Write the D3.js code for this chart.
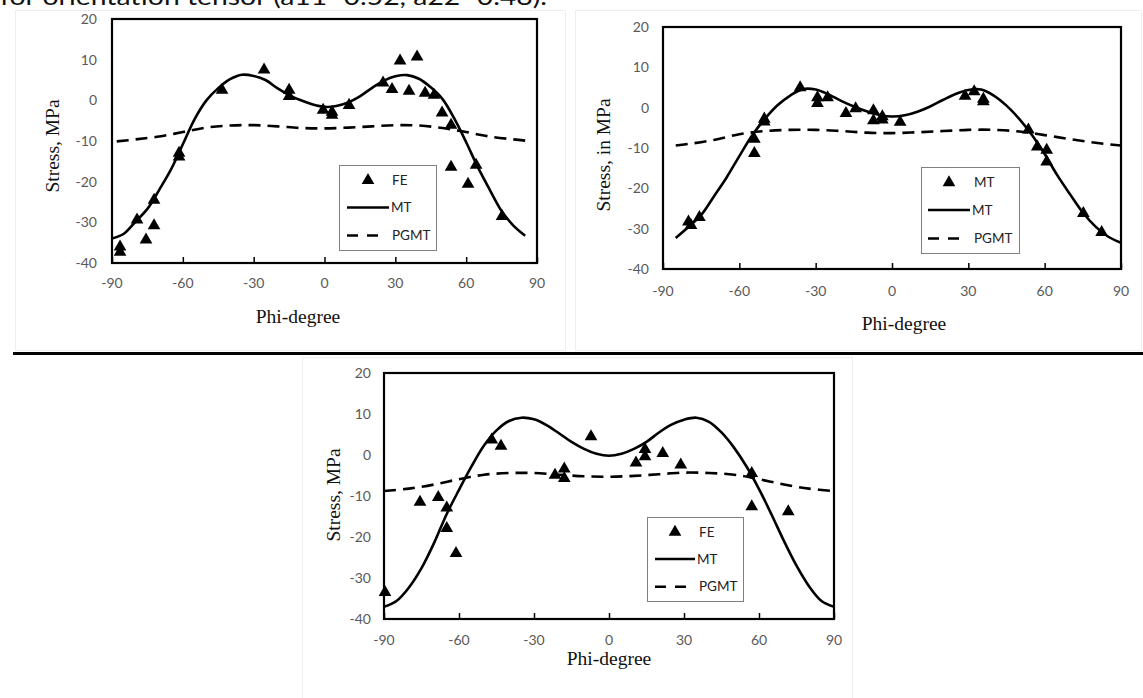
<!DOCTYPE html>
<html>
<head>
<meta charset="utf-8">
<script src="https://cdn.jsdelivr.net/npm/d3@7"></script>
<style>
  html, body { margin: 0; padding: 0; background: #fff; }
  svg { display: block; }
</style>
</head>
<body>
<svg id="chart" width="1143" height="698"></svg>
<script>
// ---------------- DATA ----------------
const phiTicks = [-90, -60, -30, 0, 30, 60, 90];
const stressTicks = [20, 10, 0, -10, -20, -30, -40];
const headerText = "for orientation tensor (a11=0.52, a22=0.48).";

// Chart 1 (top-left)
const fe1Phi = [-86.6, -86.6, -79.4, -75.6, -72.2, -72.2, -61.6, -61.6, -43.4, -25.6, -15, -15, -0.6, 3.2, 3.2, 10.4, 24.8, 28.6, 32, 35.8, 39.2, 42.6, 46.4, 49.8, 53.6, 53.6, 60.8, 64.2, 75.2];
const fe1Val = [-36, -37.3, -29.4, -34.3, -24.5, -30.8, -13, -13.9, 2.5, 7.5, 2.5, 1, -2.4, -2.9, -3.6, -1.2, 4.3, 2.7, 9.7, 2.3, 10.7, 1.8, 1.3, -3.1, -6.1, -16.4, -20.6, -15.9, -28.5];
const mt1Phi = [-90, -85, -80, -75, -70, -65, -60, -55, -50, -45, -40, -35, -30, -25, -20, -15, -10, -5, 0, 5, 10, 15, 20, 25, 30, 35, 40, 45, 50, 55, 60, 65, 70, 75, 80, 85];
const mt1Val = [-34, -32.8, -29.8, -26.7, -22, -17, -10.8, -4.6, 0, 3, 5.2, 6.3, 6, 5, 3, 1.3, 0, -1, -1.6, -1.4, -0.5, 1, 3, 4.8, 5.9, 6.2, 5.3, 3.2, 0.3, -4.5, -10.3, -16.5, -22, -27.2, -30.8, -33.3];
const pg1Phi = [-88, -80, -70, -60, -50, -40, -30, -20, -10, 0, 10, 20, 30, 40, 50, 60, 70, 80, 85];
const pg1Val = [-10.1, -9.6, -8.9, -7.8, -6.7, -6.2, -6.1, -6.4, -6.8, -6.9, -6.7, -6.4, -6.1, -6.2, -6.8, -7.8, -8.9, -9.6, -9.9];

// Chart 2 (top-right)
const fe2Phi = [-80, -79, -75.7, -54.1, -54.1, -50.2, -50.2, -36.1, -29.3, -29.3, -25.3, -18.1, -14.3, -7.3, -7.3, -3.8, -3.8, 3.2, 28.7, 32.3, 35.9, 35.9, 53.6, 57.1, 60.8, 60.8, 75.2, 82.4];
const fe2Val = [-28.3, -29.2, -27.2, -7.8, -11.3, -2.8, -3.5, 5, 2.5, 1.1, 2.5, -1.4, -0.2, -0.7, -3.2, -2.2, -3, -3.6, 2.9, 4, 2.1, 1.5, -5.5, -9.7, -10.5, -13.4, -26.2, -30.9];
const mt2Phi = [-85, -80, -75, -70, -65, -60, -55, -50, -45, -40, -35, -30, -25, -20, -15, -10, -5, 0, 5, 10, 15, 20, 25, 30, 35, 40, 45, 50, 55, 60, 65, 70, 75, 80, 85, 90];
const mt2Val = [-32.3, -29.6, -26.6, -22, -17.3, -12, -6.9, -2.8, 0.6, 3, 4.6, 4.5, 3.3, 1.7, 0.3, -0.9, -1.8, -2.2, -1.9, -1, 0.3, 1.9, 3.4, 4.4, 4.5, 3, 0.5, -2.8, -6.8, -11.5, -16.8, -21.5, -26, -29.5, -32, -33.5];
const pg2Phi = [-85, -80, -70, -60, -50, -40, -30, -20, -10, 0, 10, 20, 30, 40, 50, 60, 70, 80, 90];
const pg2Val = [-9.4, -9.0, -8.0, -6.6, -5.8, -5.5, -5.5, -5.8, -6.2, -6.3, -6.1, -5.8, -5.5, -5.5, -5.9, -6.8, -7.8, -8.7, -9.4];

// Chart 3 (bottom)
const fe3Phi = [-89.6, -75.6, -68.3, -64.9, -64.9, -61.2, -46.9, -43.2, -21.6, -17.9, -17.9, -7.2, 10.8, 14.4, 14.4, 21.5, 28.7, 57.1, 57.1, 71.7];
const fe3Val = [-33.5, -11.5, -10.3, -12.9, -17.9, -24, 3.7, 2.2, -4.9, -3.4, -5.7, 4.5, -1.9, 1.4, -0.4, 0.4, -2.4, -4.5, -12.6, -13.8];
const mt3Phi = [-90, -85, -80, -75, -70, -65, -60, -55, -50, -45, -40, -35, -30, -25, -20, -15, -10, -5, 0, 5, 10, 15, 20, 25, 30, 35, 40, 45, 50, 55, 60, 65, 70, 75, 80, 85, 90];
const mt3Val = [-37, -35.6, -32.3, -27.6, -21.5, -14.5, -8.5, -2.8, 2.3, 6, 8.3, 9.1, 8.7, 7.3, 5.3, 3.2, 1.5, 0.3, -0.2, 0.3, 1.5, 3.2, 5.5, 7.4, 8.6, 9.1, 8.1, 5.5, 1.8, -2.8, -8.3, -14.5, -21, -27, -32, -35.6, -37];
const pg3Phi = [-90, -80, -70, -60, -50, -40, -30, -20, -10, 0, 10, 20, 30, 40, 50, 60, 70, 80, 90];
const pg3Val = [-8.8, -8.2, -7.2, -5.9, -4.8, -4.4, -4.4, -4.8, -5.2, -5.3, -5.1, -4.7, -4.3, -4.4, -4.8, -5.9, -7.2, -8.2, -8.8];

// Legend labels
const legend1 = ["FE", "MT", "PGMT"];
const legend2 = ["MT", "MT", "PGMT"];
const legend3 = ["FE", "MT", "PGMT"];

// ---------------- DRAW ----------------
const svg = d3.select("#chart");
const tickFont = "Lato, 'Open Sans', sans-serif";
const serif = "'Liberation Serif', 'Times New Roman', serif";

// header text (the reference shows only its lower part, cut by the top edge)
svg.append("text")
  .attr("x", 0).attr("y", 5)
  .attr("textLength", 547).attr("lengthAdjust", "spacingAndGlyphs")
  .attr("font-family", tickFont).attr("font-size", 24).attr("fill", "#111")
  .text(headerText);

// faint outer frames
const frames = [
  {x: 15, y: 10, w: 550, h: 340},
  {x: 575, y: 10, w: 566, h: 340},
  {x: 302, y: 357, w: 550, h: 345}
];
svg.selectAll("rect.frame").data(frames).enter().append("rect")
  .attr("class", "frame")
  .attr("x", d => d.x + 0.5).attr("y", d => d.y + 0.5)
  .attr("width", d => d.w).attr("height", d => d.h)
  .attr("fill", "none").attr("stroke", "#eeeeee").attr("stroke-width", 1);

// separator line
svg.append("line")
  .attr("x1", 13).attr("x2", 1143).attr("y1", 353.5).attr("y2", 353.5)
  .attr("stroke", "#000").attr("stroke-width", 3);

function drawChart(cfg) {
  const g = svg.append("g");
  const x = d3.scaleLinear().domain([-90, 90]).range([cfg.left, cfg.right]);
  const y = d3.scaleLinear().domain([-40, 20]).range([cfg.bottom, cfg.top]);

  // x ticks pointing inward
  const xAxis = d3.axisTop(x).tickValues(phiTicks).tickSize(6).tickFormat("");
  const xa = g.append("g").attr("transform", `translate(0,${cfg.bottom})`).call(xAxis);
  xa.select(".domain").remove();
  xa.selectAll("line").attr("stroke", "#000").attr("stroke-width", 1.5);

  // tick labels
  g.selectAll("text.xl").data(phiTicks).enter().append("text")
    .attr("x", d => x(d)).attr("y", cfg.xLabelY)
    .attr("text-anchor", "middle").attr("font-family", tickFont)
    .attr("font-size", 14).attr("fill", "#595959").text(d => d);
  g.selectAll("text.yl").data(stressTicks).enter().append("text")
    .attr("x", cfg.yLabelX).attr("y", d => y(d)).attr("dy", "0.35em")
    .attr("text-anchor", "end").attr("font-family", tickFont)
    .attr("font-size", 14).attr("fill", "#595959").text(d => d);

  // titles
  g.append("text").attr("x", cfg.xTitleX).attr("y", cfg.xTitleY)
    .attr("text-anchor", "middle").attr("font-family", serif)
    .attr("font-size", 19.5).attr("fill", "#111").text("Phi-degree");
  g.append("text")
    .attr("transform", `translate(${cfg.yTitleX},${cfg.yTitleY}) rotate(-90)`)
    .attr("text-anchor", "middle").attr("dy", "0.35em").attr("font-family", serif)
    .attr("font-size", 19.5).attr("fill", "#111").text(cfg.yTitle);

  const line = d3.line().x(d => x(d[0])).y(d => y(d[1])).curve(d3.curveCatmullRom.alpha(0.5));
  const pg = d3.zip(cfg.pgPhi, cfg.pgVal);
  const mt = d3.zip(cfg.mtPhi, cfg.mtVal);
  g.append("path").attr("d", line(pg)).attr("fill", "none")
    .attr("stroke", "#000").attr("stroke-width", 2.6).attr("stroke-dasharray", "12,7");
  g.append("path").attr("d", line(mt)).attr("fill", "none")
    .attr("stroke", "#000").attr("stroke-width", 2.6);

  const tri = d3.symbol().type(d3.symbolTriangle).size(70);
  g.selectAll("path.fe").data(d3.zip(cfg.fePhi, cfg.feVal)).enter().append("path")
    .attr("d", tri)
    .attr("transform", d => `translate(${x(d[0])},${y(d[1])})`)
    .attr("fill", "#000");

  // plot frame
  g.append("rect")
    .attr("x", cfg.left).attr("y", cfg.top)
    .attr("width", cfg.right - cfg.left).attr("height", cfg.bottom - cfg.top)
    .attr("fill", "none").attr("stroke", "#000").attr("stroke-width", 2.2);

  // legend
  const L = cfg.legend;
  g.append("rect").attr("x", L.x + 0.5).attr("y", L.y + 0.5).attr("width", L.w).attr("height", L.h)
    .attr("fill", "#fff").attr("stroke", "#808080").attr("stroke-width", 1);
  const rows = [L.y + L.h * 0.18, L.y + L.h * 0.5, L.y + L.h * 0.83];
  g.append("path").attr("d", tri)
    .attr("transform", `translate(${L.symX},${rows[0]})`).attr("fill", "#000");
  g.append("line").attr("x1", L.lineX1).attr("x2", L.lineX2).attr("y1", rows[1]).attr("y2", rows[1])
    .attr("stroke", "#000").attr("stroke-width", 2.5);
  g.append("line").attr("x1", L.lineX1).attr("x2", L.lineX2 - 6).attr("y1", rows[2]).attr("y2", rows[2])
    .attr("stroke", "#000").attr("stroke-width", 2.5).attr("stroke-dasharray", "11,9");
  cfg.legendLabels.forEach((t, i) => {
    g.append("text").attr("x", i === 1 ? L.lineX2 + 2 : L.textX).attr("y", rows[i]).attr("dy", "0.35em")
      .attr("font-family", tickFont).attr("font-size", 13.5).attr("fill", "#222").text(t);
  });
}

drawChart({
  left: 112, right: 537, top: 19, bottom: 263,
  xLabelY: 288, yLabelX: 97,
  xTitleX: 298, xTitleY: 323, yTitleX: 52, yTitleY: 146, yTitle: "Stress, MPa",
  fePhi: fe1Phi, feVal: fe1Val, mtPhi: mt1Phi, mtVal: mt1Val, pgPhi: pg1Phi, pgVal: pg1Val,
  legend: {x: 339, y: 165, w: 97, h: 85, symX: 368, lineX1: 347, lineX2: 389, textX: 392},
  legendLabels: legend1
});

drawChart({
  left: 663, right: 1121, top: 27, bottom: 269,
  xLabelY: 296, yLabelX: 649,
  xTitleX: 904, xTitleY: 330, yTitleX: 603, yTitleY: 155, yTitle: "Stress, in MPa",
  fePhi: fe2Phi, feVal: fe2Val, mtPhi: mt2Phi, mtVal: mt2Val, pgPhi: pg2Phi, pgVal: pg2Val,
  legend: {x: 921, y: 167, w: 98, h: 86, symX: 949, lineX1: 928, lineX2: 970, textX: 974},
  legendLabels: legend2
});

drawChart({
  left: 384, right: 834, top: 373, bottom: 619,
  xLabelY: 645, yLabelX: 371,
  xTitleX: 609, xTitleY: 665, yTitleX: 333, yTitleY: 495, yTitle: "Stress, MPa",
  fePhi: fe3Phi, feVal: fe3Val, mtPhi: mt3Phi, mtVal: mt3Val, pgPhi: pg3Phi, pgVal: pg3Val,
  legend: {x: 647, y: 517, w: 96, h: 84, symX: 675, lineX1: 655, lineX2: 695, textX: 699},
  legendLabels: legend3
});
</script>
</body>
</html>
